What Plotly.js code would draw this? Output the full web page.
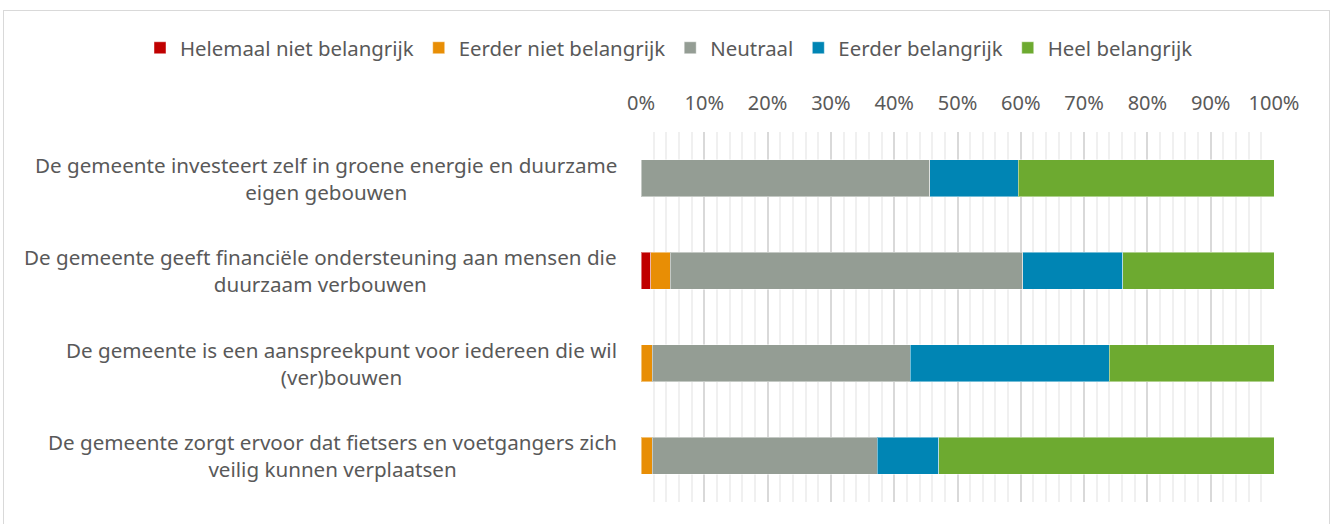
<!DOCTYPE html>
<html>
<head>
<meta charset="utf-8">
<script src="https://cdn.plot.ly/plotly-3.0.1.min.js"></script>
<style>
  html, body { margin: 0; padding: 0; background: #ffffff; }
  #wrap { position: relative; width: 1336px; height: 524px; overflow: hidden; }
  #frame { position: absolute; left: 3px; top: 10px; width: 1327px; height: 530px; border: 1px solid #d9d9d9; box-sizing: border-box; pointer-events: none; }
  #chart { position: absolute; left: 0; top: 0; width: 1336px; height: 524px; }
</style>
</head>
<body>
<div id="wrap">
  <div id="chart"></div>
  <div id="frame"></div>
</div>
<script>
const categories = [
  "De gemeente investeert zelf in groene energie en duurzame<br>eigen gebouwen",
  "De gemeente geeft financiële ondersteuning aan mensen die<br>duurzaam verbouwen",
  "De gemeente is een aanspreekpunt voor iedereen die wil<br>(ver)bouwen",
  "De gemeente zorgt ervoor dat fietsers en voetgangers zich<br>veilig kunnen verplaatsen"
];
const seriesNames = ["Helemaal niet belangrijk", "Eerder niet belangrijk", "Neutraal", "Eerder belangrijk", "Heel belangrijk"];
const helemaalNiet = [0, 1.5, 0, 0];
const eerderNiet   = [0, 3.1, 1.8, 1.8];
const neutraal     = [45.6, 55.7, 40.7, 35.5];
const eerderBel    = [14.0, 15.8, 31.5, 9.7];
const heelBel      = [40.4, 23.9, 26.0, 53.0];
const seriesValues = [helemaalNiet, eerderNiet, neutraal, eerderBel, heelBel];
const colors = ["#C00000", "#E88E05", "#949D94", "#0085B4", "#6DAA30"];
const tickVals = [0, 10, 20, 30, 40, 50, 60, 70, 80, 90, 100];

const fontFam = "Noto Sans, Open Sans, sans-serif";
const txtColor = "#595959";

const traces = seriesNames.map((name, i) => ({
  type: "bar",
  orientation: "h",
  name: name,
  x: seriesValues[i],
  y: categories,
  marker: { color: colors[i], line: { color: "rgba(255,255,255,0.45)", width: 1 } },
  hoverinfo: "x+name"
}));

const annotations = categories.map(c => ({
  text: c,
  xref: "paper", x: 0, xanchor: "right", xshift: -22,
  yref: "y", y: c, yanchor: "middle",
  align: "center",
  showarrow: false,
  font: { family: fontFam, size: 20.6, color: txtColor }
}));

const layout = {
  width: 1336, height: 524,
  margin: { l: 641, r: 62, t: 132, b: 22, pad: 0 },
  paper_bgcolor: "rgba(0,0,0,0)",
  plot_bgcolor: "#ffffff",
  barmode: "stack",
  bargap: 0.6,
  font: { family: fontFam, size: 20, color: txtColor },
  showlegend: true,
  legend: {
    orientation: "h",
    xref: "paper", x: (140 - 641) / 633, xanchor: "left",
    yref: "paper", y: 1 + (132 - 48) / 370, yanchor: "middle",
    font: { family: fontFam, size: 20.4, color: txtColor },
    traceorder: "normal",
    itemwidth: 30,
    bgcolor: "rgba(0,0,0,0)"
  },
  xaxis: {
    side: "top",
    range: [0, 100],
    tickvals: tickVals,
    ticktext: tickVals.map(v => v + "%"),
    showgrid: true,
    gridcolor: "#d9d9d9",
    gridwidth: 1.5,
    zeroline: false,
    showline: false,
    ticks: "",
    ticklabelstandoff: 17,
    tickfont: { family: fontFam, size: 20, color: txtColor },
    minor: { dtick: 2, showgrid: true, gridcolor: "#f0f0f0", gridwidth: 1.5 },
    fixedrange: true
  },
  yaxis: {
    autorange: "reversed",
    showticklabels: false,
    showgrid: false,
    zeroline: false,
    showline: false,
    ticks: "",
    fixedrange: true
  },
  annotations: annotations
};

Plotly.newPlot("chart", traces, layout, { displayModeBar: false });
</script>
</body>
</html>
